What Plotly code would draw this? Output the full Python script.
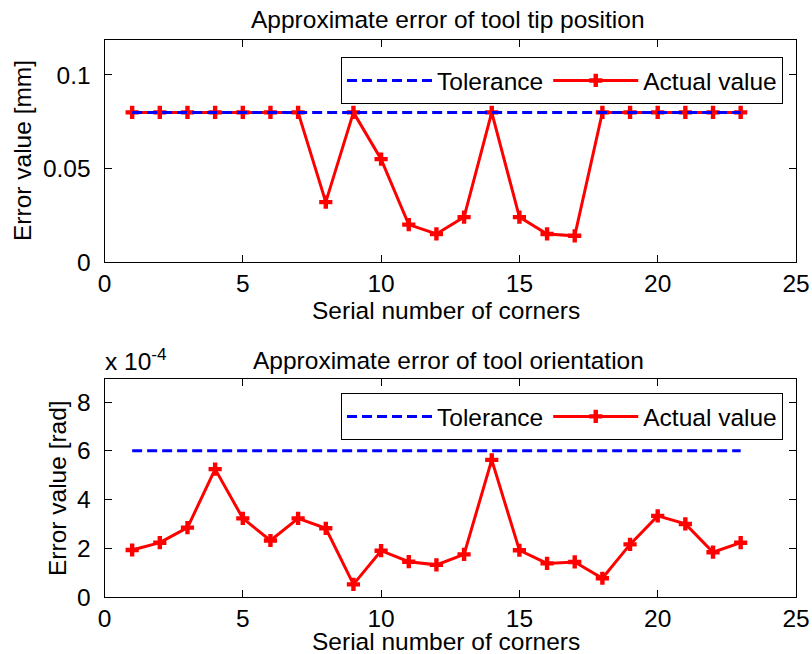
import plotly.graph_objects as go

W, H = 812, 654

corners = list(range(1, 24))

# Top chart: approximate error of tool tip position [mm]
tip_tolerance = [0.08] * 23
tip_actual = [0.08, 0.08, 0.08, 0.08, 0.08, 0.08, 0.08, 0.032, 0.08, 0.055,
              0.020, 0.015, 0.024, 0.08, 0.024, 0.015, 0.014, 0.08, 0.08, 0.08,
              0.08, 0.08, 0.08]

# Bottom chart: approximate error of tool orientation [rad], in units of 1e-4
orient_tolerance = [6.0] * 23
orient_actual = [1.93, 2.23, 2.85, 5.25, 3.23, 2.32, 3.23, 2.82, 0.52, 1.90,
                 1.45, 1.32, 1.75, 5.63, 1.92, 1.38, 1.44, 0.77, 2.16, 3.33,
                 3.00, 1.84, 2.23]

x_ticks = [0, 5, 10, 15, 20, 25]
top_y_ticks = [0, 0.05, 0.1]
top_y_labels = ["0", "0.05", "0.1"]
bot_y_ticks = [0, 2, 4, 6, 8]

FONT = "Liberation Sans, Arial, Helvetica, sans-serif"
FS = 24.5
RED = "#ff0000"
BLUE = "#0000ff"

def px_x(p):
    return p / W

def px_y(p):
    return 1 - p / H

fig = go.Figure()

# top subplot
fig.add_trace(go.Scatter(x=corners, y=tip_actual, mode="lines+markers", name="Actual value",
                         line=dict(color=RED, width=3),
                         marker=dict(symbol="cross", size=11, color=RED, line=dict(width=0)),
                         xaxis="x", yaxis="y", legend="legend", legendrank=2))
fig.add_trace(go.Scatter(x=corners, y=tip_tolerance, mode="lines", name="Tolerance",
                         line=dict(color=BLUE, width=3, dash="10px,5px"),
                         xaxis="x", yaxis="y", legend="legend", legendrank=1))

# bottom subplot
fig.add_trace(go.Scatter(x=corners, y=orient_actual, mode="lines+markers", name="Actual value",
                         line=dict(color=RED, width=3),
                         marker=dict(symbol="cross", size=11, color=RED, line=dict(width=0)),
                         xaxis="x2", yaxis="y2", legend="legend2", legendrank=2))
fig.add_trace(go.Scatter(x=corners, y=orient_tolerance, mode="lines", name="Tolerance",
                         line=dict(color=BLUE, width=3, dash="10px,5px"),
                         xaxis="x2", yaxis="y2", legend="legend2", legendrank=1))

xdom = [px_x(104.5), px_x(796)]
axis_common = dict(showgrid=False, zeroline=False, showline=True, linecolor="black",
                   linewidth=1, mirror="ticks", ticks="inside", ticklen=7,
                   tickcolor="black", tickwidth=1, automargin=False,
                   tickfont=dict(family=FONT, size=FS, color="black"))

legend_common = dict(orientation="h", xanchor="right", yanchor="top",
                     bgcolor="white", bordercolor="black", borderwidth=1,
                     font=dict(family=FONT, size=FS, color="black"), itemwidth=85,
                     traceorder="normal")

fig.update_layout(
    width=W, height=H,
    margin=dict(l=0, r=0, t=0, b=0),
    paper_bgcolor="white", plot_bgcolor="white",
    font=dict(family=FONT, size=FS, color="black"),
    xaxis=dict(domain=xdom, anchor="y", range=[0, 25], tickvals=x_ticks,
               ticklabelstandoff=0, **axis_common),
    yaxis=dict(domain=[px_y(262), px_y(40)], anchor="x", range=[0, 0.1187],
               tickvals=top_y_ticks, ticktext=top_y_labels, ticklabelstandoff=8, **axis_common),
    xaxis2=dict(domain=xdom, anchor="y2", range=[0, 25], tickvals=x_ticks,
                ticklabelstandoff=0, **axis_common),
    yaxis2=dict(domain=[px_y(597), px_y(379)], anchor="x2", range=[0, 8.95],
                tickvals=bot_y_ticks, ticklabelstandoff=8, **axis_common),
    legend=dict(x=px_x(783), y=px_y(57), **legend_common),
    legend2=dict(x=px_x(783), y=px_y(393), **legend_common),
    showlegend=True,
)

ann = []
ann.append(dict(text="Approximate error of tool tip position", x=px_x(448), y=px_y(20),
                xanchor="center"))
ann.append(dict(text="Approximate error of tool orientation", x=px_x(448), y=px_y(360),
                xanchor="center"))
ann.append(dict(text="x 10<sup>-4</sup>", x=px_x(103), y=px_y(359), xanchor="left"))
ann.append(dict(text="Serial number of corners", x=px_x(446), y=px_y(310), xanchor="center"))
ann.append(dict(text="Serial number of corners", x=px_x(446), y=px_y(641), xanchor="center",
                height=24, valign="middle"))
ann.append(dict(text="Error value [mm]", x=px_x(22), y=px_y(151), textangle=-90,
                xanchor="center"))
ann.append(dict(text="Error value [rad]", x=px_x(57), y=px_y(488), textangle=-90,
                xanchor="center"))
for a in ann:
    a.update(xref="paper", yref="paper", showarrow=False, yanchor="middle",
             font=dict(family=FONT, size=FS, color="black"))
fig.update_layout(annotations=ann)

fig.write_html("out.html")
